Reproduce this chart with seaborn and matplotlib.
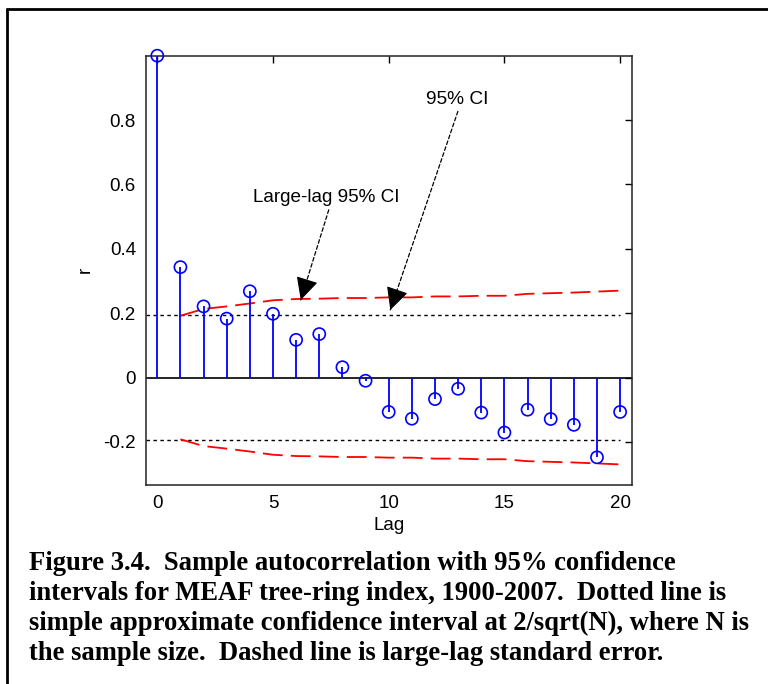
import numpy as np
import pandas as pd
import seaborn as sns
import matplotlib
matplotlib.use("Agg")
import matplotlib.pyplot as plt
from matplotlib.lines import Line2D

# ---------------- data ----------------
lags = list(range(0, 21))
acf = [1.0, 0.343, 0.221, 0.183, 0.268, 0.198, 0.117, 0.135, 0.032, -0.010,
       -0.107, -0.128, -0.067, -0.035, -0.109, -0.171, -0.100, -0.129, -0.147,
       -0.248, -0.107]
ci_lags = list(range(1, 21))
large_lag_ci = [0.192, 0.213, 0.221, 0.230, 0.240, 0.244, 0.245, 0.247, 0.247,
                0.249, 0.249, 0.252, 0.252, 0.254, 0.254, 0.260, 0.262, 0.264,
                0.267, 0.270]
simple_ci = 0.193
yticks = [-0.2, 0, 0.2, 0.4, 0.6, 0.8]
ytick_labels = ["-0.2", "0", "0.2", "0.4", "0.6", "0.8"]
xticks = [0, 5, 10, 15, 20]
xtick_labels = ["0", "5", "10", "15", "20"]
caption_lines = [
    "Figure 3.4.  Sample autocorrelation with 95% confidence",
    "intervals for MEAF tree-ring index, 1900-2007.  Dotted line is",
    "simple approximate confidence interval at 2/sqrt(N), where N is",
    "the sample size.  Dashed line is large-lag standard error.",
]

df = pd.DataFrame({"lag": lags, "r": acf})
ci_df = pd.DataFrame({"lag": ci_lags, "upper": large_lag_ci,
                      "lower": [-v for v in large_lag_ci]})

# ---------------- figure ----------------
sns.set_style("white")
plt.rcParams["font.family"] = ["Liberation Sans", "DejaVu Sans"]
plt.rcParams["text.color"] = "black"
plt.rcParams["axes.labelcolor"] = "black"

W, H = 768, 684
fig = plt.figure(figsize=(W / 100, H / 100), dpi=100)
ax = fig.add_axes([145.7 / W, 1 - 485 / H, (631.7 - 145.7) / W, (485 - 55.7) / H])

# zero line
ax.axhline(0, color="black", lw=1.2, zorder=2)
# stems
ax.vlines(df["lag"], 0, df["r"], color="blue", lw=1.3, zorder=3)
# markers
sns.scatterplot(data=df, x="lag", y="r", ax=ax, marker="o", s=76,
                facecolor="none", edgecolor="blue", linewidth=1.2,
                zorder=4, clip_on=False, legend=False)
# simple CI dotted lines
ax.plot([-0.5, 20], [simple_ci, simple_ci], color="black", lw=1.0,
        linestyle=(0, (2.5, 2.5)), zorder=2)
ax.plot([-0.5, 20], [-simple_ci, -simple_ci], color="black", lw=1.0,
        linestyle=(0, (2.5, 2.5)), zorder=2)
# large-lag CI red dashed
sns.lineplot(data=ci_df, x="lag", y="upper", ax=ax, color="red", lw=1.3,
             zorder=2, legend=False)
sns.lineplot(data=ci_df, x="lag", y="lower", ax=ax, color="red", lw=1.3,
             zorder=2, legend=False)
for ln in ax.get_lines()[-2:]:
    ln.set_dashes((11, 4.5))

ax.set_xlim(-0.5, 20.5)
ax.set_ylim(-0.334, 1.0)
ax.set_xticks(xticks)
ax.set_xticklabels(xtick_labels)
ax.set_yticks(yticks)
ax.set_yticklabels(ytick_labels)
ax.tick_params(direction="in", length=5, width=1, labelsize=13.5,
               top=True, right=True, colors="black", pad=7)
for sp in ax.spines.values():
    sp.set_visible(True)
    sp.set_color("#222222")
    sp.set_linewidth(1.1)
ax.set_xlabel("Lag", fontsize=13.5, labelpad=4)
ax.set_ylabel("r", fontsize=13.5, labelpad=7)

# annotations
ax.text(7.29, 0.559, "Large-lag 95% CI", fontsize=13.6, ha="center", va="center")
ax.text(12.94, 0.864, "95% CI", fontsize=13.8, ha="center", va="center")

line_kw = dict(arrowstyle="-", color="black", lw=0.9, linestyle=(0, (3, 2)),
               shrinkA=0, shrinkB=0)
head_kw = dict(arrowstyle="-|>,head_length=1.0,head_width=0.5",
               color="black", lw=0.8, shrinkA=0, shrinkB=0, mutation_scale=14)
arrows = [((6.2, 0.241), (7.41, 0.521), 0.14),
          ((10.07, 0.21), (12.99, 0.827), 0.06)]
for tip, start, frac in arrows:
    ax.annotate("", xy=tip, xytext=start, arrowprops=line_kw)
    hs = (tip[0] + frac * (start[0] - tip[0]), tip[1] + frac * (start[1] - tip[1]))
    ax.annotate("", xy=tip, xytext=hs, arrowprops=head_kw)

# outer frame
fig.add_artist(Line2D([7 / W, 1.0], [1 - 9 / H, 1 - 9 / H], color="black",
                      lw=2, transform=fig.transFigure))
fig.add_artist(Line2D([7 / W, 7 / W], [1 - 9 / H, 0.0], color="black",
                      lw=2, transform=fig.transFigure))

# caption
baselines = [570, 600, 630.5, 660.5]
for line, b in zip(caption_lines, baselines):
    fig.text(29 / W, 1 - b / H, line, fontsize=19.2, fontweight="bold",
             color="black", family=["Liberation Serif", "DejaVu Serif"],
             va="baseline", ha="left")

fig.savefig("out.png", dpi=100)
